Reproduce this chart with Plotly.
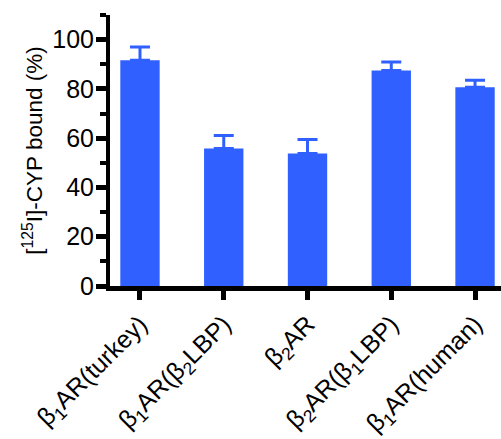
import plotly.graph_objects as go

categories = ["β<sub>1</sub>AR(turkey)", "β<sub>1</sub>AR(β<sub>2</sub>LBP)", "β<sub>2</sub>AR",
              "β<sub>2</sub>AR(β<sub>1</sub>LBP)", "β<sub>1</sub>AR(human)"]
values = [91.6, 55.8, 53.8, 87.5, 80.7]
errors = [5.4, 5.3, 5.7, 3.4, 2.8]
y_ticks = [0, 20, 40, 60, 80, 100]

BLUE = "#3060FF"
FONT = "Liberation Sans, Arial, Helvetica, sans-serif"

fig = go.Figure()
fig.add_trace(go.Bar(
    x=list(range(len(categories))), y=values,
    marker=dict(color=BLUE, line=dict(width=0)),
    width=0.47,
    error_y=dict(type="data", array=errors, arrayminus=[0]*len(errors), symmetric=False,
                 color=BLUE, thickness=3, width=10),
))

fig.update_layout(
    width=501, height=439,
    margin=dict(l=110, r=0, t=15, b=153),
    paper_bgcolor="white", plot_bgcolor="white",
    showlegend=False,
    font=dict(family=FONT, color="black"),
    xaxis=dict(
        range=[-0.358, 4.31], automargin=False,
        tickmode="array", tickvals=list(range(len(categories))), ticktext=categories,
        tickangle=-45, tickfont=dict(size=25),
        showline=True, linecolor="black", linewidth=4.5,
        ticks="outside", ticklen=9, tickwidth=4.5, tickcolor="black",
        showgrid=False, zeroline=False,
    ),
    yaxis=dict(
        range=[0, 110], automargin=False,
        tickmode="array", tickvals=y_ticks,
        tickfont=dict(size=25), ticklabelstandoff=-3,
        showline=True, linecolor="black", linewidth=4,
        ticks="outside", ticklen=10, tickwidth=4.5, tickcolor="black",
        minor=dict(dtick=10, ticks="outside", ticklen=6, tickwidth=4, tickcolor="black"),
        showgrid=False, zeroline=False,
        title=dict(text="[<sup>125</sup>I]-CYP bound (%)", font=dict(size=22.5), standoff=4),
    ),
)

fig.write_html("out.html", config={"displayModeBar": False},
               post_script="document.body.style.margin='0';document.body.style.overflow='hidden';")
